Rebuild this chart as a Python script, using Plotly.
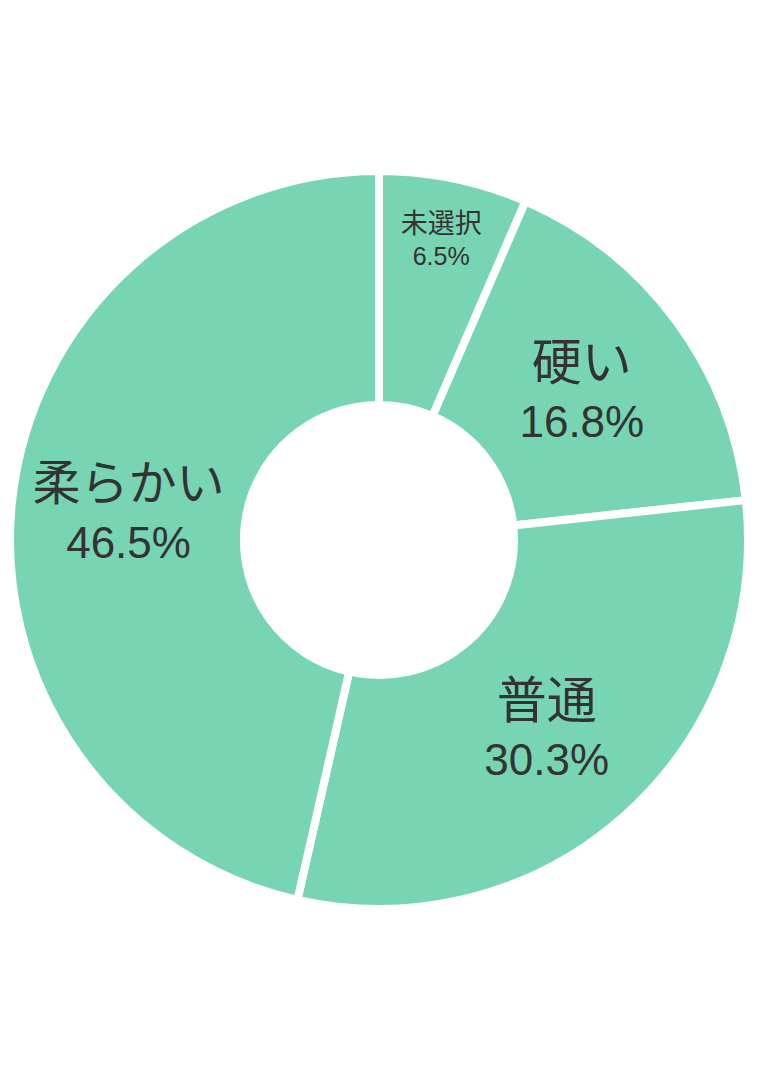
import plotly.graph_objects as go

# アンケート結果 (%)
labels = ['未選択', '硬い', '普通', '柔らかい']
values = [6.5, 16.8, 30.3, 46.5]

slice_color = '#78D5B3'
text_color = '#333333'

# 小さい「未選択」だけ文字を小さく
pct_sizes = [25, 44, 44, 44]
label_sizes = [27, 50, 50, 48]

texts = [
    f'<span style="font-size:{ls}px">{lab}</span><br>{val:.1f}%'
    for lab, val, ls in zip(labels, values, label_sizes)
]

fig = go.Figure()

fig.add_trace(go.Pie(
    labels=labels,
    values=values,
    text=texts,
    sort=False,
    direction='clockwise',
    rotation=0,
    hole=0.366,
    marker=dict(colors=[slice_color] * len(labels),
                line=dict(color='white', width=8)),
    texttemplate='%{text}',
    textposition='inside',
    insidetextorientation='horizontal',
    textfont=dict(size=pct_sizes, color=text_color,
                  family='Liberation Sans, Noto Sans CJK JP'),
    showlegend=False,
    hoverinfo='label+value',
))

fig.update_layout(
    width=758,
    height=1086,
    margin=dict(l=2, r=18, t=0, b=22),
    paper_bgcolor='white',
    plot_bgcolor='white',
)

fig.write_html('out.html')
